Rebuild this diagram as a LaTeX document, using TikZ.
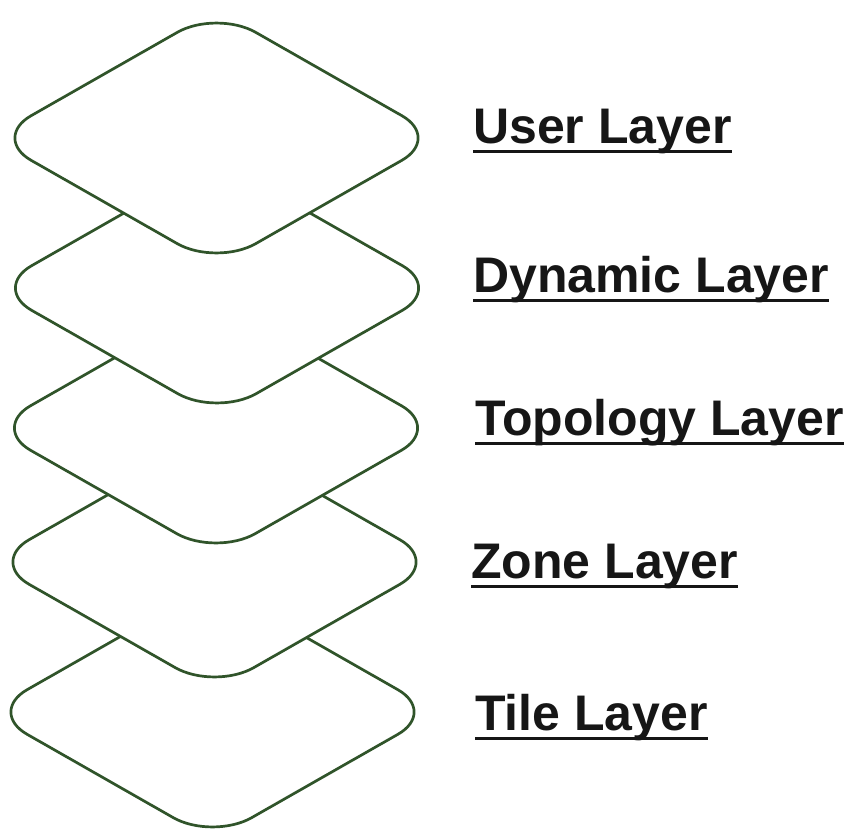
\documentclass[tikz,border=0pt]{standalone}
\usepackage{fontspec}
\setmainfont{Liberation Sans}
\definecolor{edgegreen}{RGB}{48,84,42}
\definecolor{labelink}{RGB}{22,22,22}
\begin{document}
\begin{tikzpicture}[x=1pt,y=-1pt,
  layer/.style={draw=edgegreen,line width=2.7pt,fill=white,rounded corners=45pt,line join=round},
  lbl/.style={anchor=base west,inner sep=0pt,text=labelink,font=\fontsize{50}{60}\selectfont\bfseries},
  uline/.style={draw=labelink,line width=3.8pt}]
\useasboundingbox (0,0) rectangle (853,830);
% layers from bottom to top so that upper ones cover lower ones
\foreach \cx/\cy/\nm in {212.5/712/tile,214.5/562/zone,216/428/topo,217/288/dyn,216.5/138/user}{
  \coordinate (\nm) at (\cx,\cy);
  \path[layer] ([shift={(-112.25,-64)}]\nm) -- ([shift={(0,-128)}]\nm) -- ([shift={(224.5,0)}]\nm)
     -- ([shift={(0,128)}]\nm) -- ([shift={(-224.5,0)}]\nm) -- cycle;
}
\node[lbl] (tuser) at (473,143) {User Layer};
\node[lbl] (tdyn) at (473,292) {Dynamic Layer};
\node[lbl] (ttopo) at (475,435) {Topology Layer};
\node[lbl] (tzone) at (471,578) {Zone Layer};
\node[lbl] (ttile) at (475,730) {Tile Layer};
\foreach \t in {tuser,tdyn,ttopo,tzone,ttile}{
  \draw[uline] ([yshift=-8.5pt]\t.base west) -- ([yshift=-8.5pt]\t.base east);
}
\end{tikzpicture}
\end{document}
